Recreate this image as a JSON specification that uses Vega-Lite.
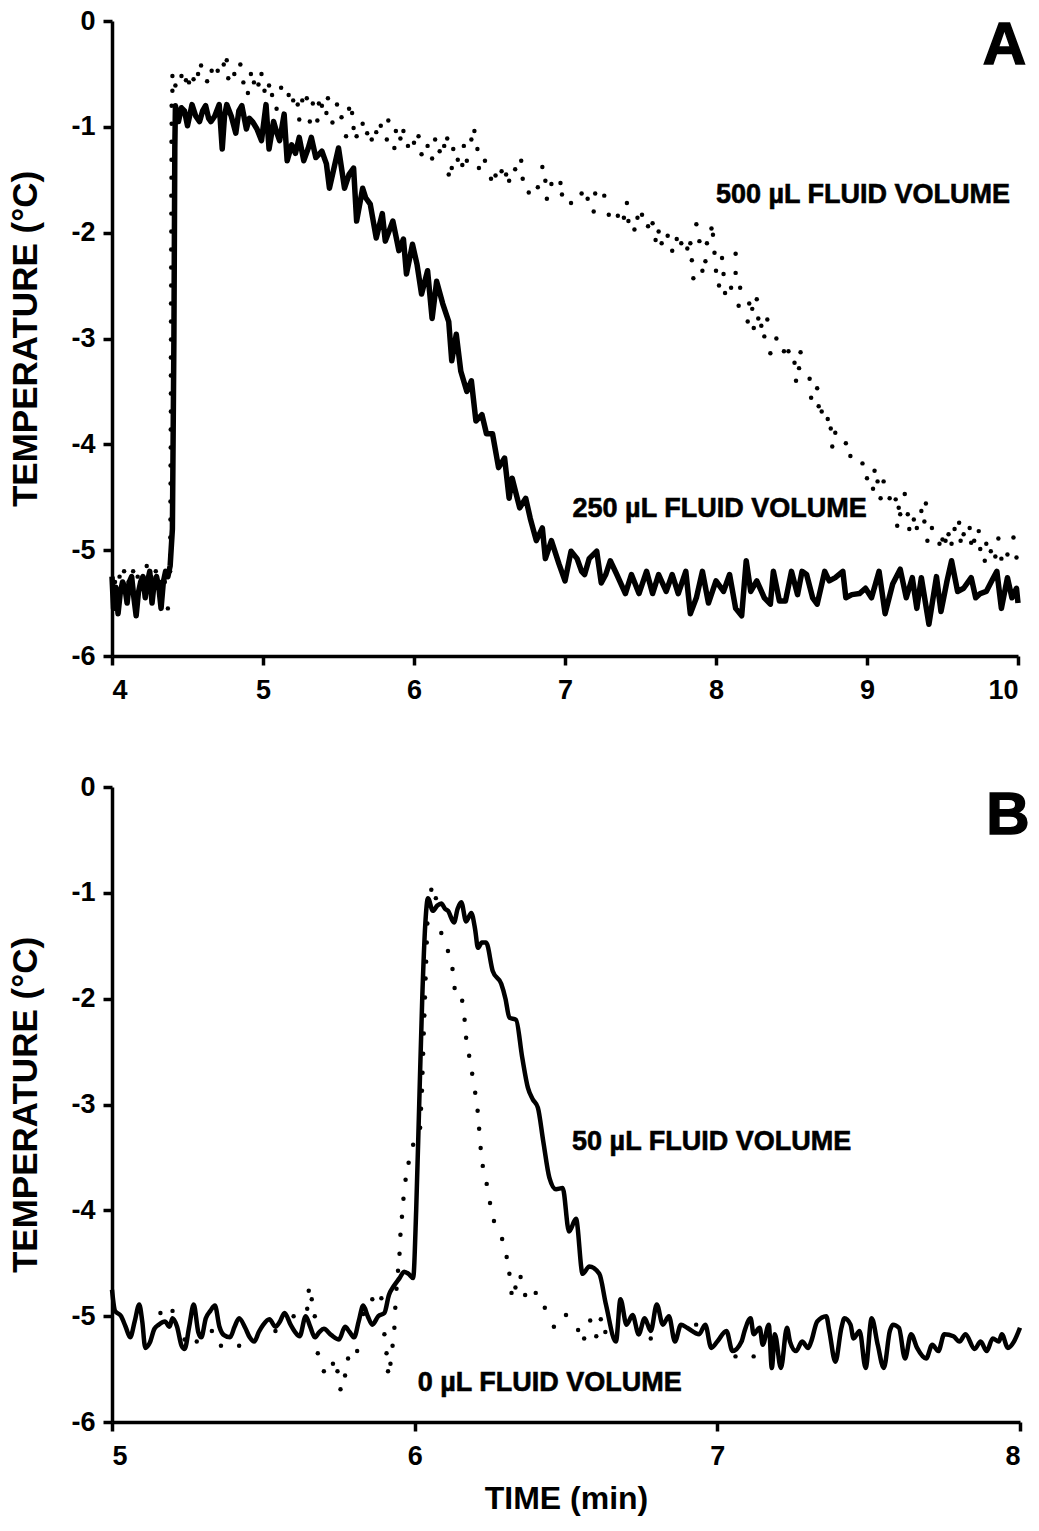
{
"$schema": "https://vega.github.io/schema/vega-lite/v6.json",
"padding": {"left": 8, "top": 7, "right": 4, "bottom": 12},
"background": "white",
"bounds": "flush",
"spacing": 131,
"config": {
  "view": {"stroke": null},
  "font": "Liberation Sans",
  "axis": {"domainColor": "black", "domainWidth": 3.5, "tickColor": "black", "tickWidth": 3.5, "tickSize": 9, "labelFont": "Liberation Sans", "labelFontWeight": "bold", "labelFontSize": 27, "labelColor": "black", "titleFont": "Liberation Sans", "titleFontWeight": "bold", "titleColor": "black", "grid": false, "labelPadding": 8},
  "axisX": {"labelPadding": 12}
},
"datasets": {
"sA": [
{"t":4.0,"v":-5.25},{"t":4.01,"v":-5.55},{"t":4.025,"v":-5.35},{"t":4.04,"v":-5.6},{"t":4.055,"v":-5.4},{"t":4.07,"v":-5.3},{"t":4.085,"v":-5.35},{"t":4.1,"v":-5.5},{"t":4.115,"v":-5.3},{"t":4.13,"v":-5.25},{"t":4.145,"v":-5.45},{"t":4.16,"v":-5.62},{"t":4.175,"v":-5.4},{"t":4.19,"v":-5.3},{"t":4.205,"v":-5.25},{"t":4.22,"v":-5.45},{"t":4.235,"v":-5.3},{"t":4.25,"v":-5.2},{"t":4.265,"v":-5.5},{"t":4.28,"v":-5.3},{"t":4.295,"v":-5.25},{"t":4.31,"v":-5.35},{"t":4.325,"v":-5.55},{"t":4.34,"v":-5.3},{"t":4.355,"v":-5.2},{"t":4.37,"v":-5.25},{"t":4.385,"v":-5.15},{"t":4.4,"v":-4.8},{"t":4.41,"v":-3.0},{"t":4.416,"v":-1.2},{"t":4.42,"v":-0.8},{"t":4.44,"v":-0.95},{"t":4.46,"v":-0.82},{"t":4.48,"v":-0.85},{"t":4.5,"v":-0.99},{"t":4.53,"v":-0.79},{"t":4.555,"v":-0.9},{"t":4.58,"v":-0.95},{"t":4.6,"v":-0.85},{"t":4.62,"v":-0.8},{"t":4.64,"v":-0.92},{"t":4.655,"v":-0.95},{"t":4.68,"v":-0.9},{"t":4.71,"v":-0.79},{"t":4.73,"v":-1.21},{"t":4.745,"v":-0.9},{"t":4.76,"v":-0.79},{"t":4.79,"v":-0.9},{"t":4.82,"v":-1.06},{"t":4.84,"v":-0.85},{"t":4.86,"v":-0.8},{"t":4.89,"v":-1.02},{"t":4.91,"v":-0.92},{"t":4.93,"v":-0.95},{"t":4.96,"v":-1.02},{"t":4.99,"v":-1.13},{"t":5.02,"v":-0.79},{"t":5.04,"v":-1.21},{"t":5.07,"v":-0.95},{"t":5.09,"v":-1.05},{"t":5.11,"v":-1.13},{"t":5.14,"v":-0.88},{"t":5.16,"v":-1.32},{"t":5.19,"v":-1.17},{"t":5.215,"v":-1.25},{"t":5.24,"v":-1.1},{"t":5.27,"v":-1.32},{"t":5.3,"v":-1.2},{"t":5.32,"v":-1.1},{"t":5.35,"v":-1.29},{"t":5.39,"v":-1.23},{"t":5.42,"v":-1.35},{"t":5.44,"v":-1.58},{"t":5.47,"v":-1.39},{"t":5.5,"v":-1.2},{"t":5.54,"v":-1.58},{"t":5.57,"v":-1.45},{"t":5.6,"v":-1.39},{"t":5.62,"v":-1.89},{"t":5.66,"v":-1.58},{"t":5.68,"v":-1.67},{"t":5.71,"v":-1.73},{"t":5.75,"v":-2.05},{"t":5.79,"v":-1.82},{"t":5.81,"v":-2.08},{"t":5.86,"v":-1.89},{"t":5.9,"v":-2.17},{"t":5.93,"v":-2.06},{"t":5.95,"v":-2.39},{"t":5.99,"v":-2.11},{"t":6.02,"v":-2.3},{"t":6.05,"v":-2.58},{"t":6.09,"v":-2.36},{"t":6.12,"v":-2.81},{"t":6.15,"v":-2.46},{"t":6.19,"v":-2.67},{"t":6.23,"v":-2.84},{"t":6.25,"v":-3.21},{"t":6.28,"v":-2.96},{"t":6.31,"v":-3.31},{"t":6.35,"v":-3.5},{"t":6.38,"v":-3.4},{"t":6.41,"v":-3.78},{"t":6.45,"v":-3.72},{"t":6.48,"v":-3.9},{"t":6.52,"v":-3.9},{"t":6.56,"v":-4.22},{"t":6.6,"v":-4.13},{"t":6.63,"v":-4.51},{"t":6.65,"v":-4.32},{"t":6.7,"v":-4.6},{"t":6.74,"v":-4.51},{"t":6.77,"v":-4.7},{"t":6.81,"v":-4.91},{"t":6.85,"v":-4.79},{"t":6.87,"v":-5.08},{"t":6.91,"v":-4.91},{"t":6.96,"v":-5.13},{"t":7.0,"v":-5.29},{"t":7.04,"v":-5.01},{"t":7.08,"v":-5.08},{"t":7.11,"v":-5.2},{"t":7.13,"v":-5.23},{"t":7.16,"v":-5.08},{"t":7.21,"v":-5.01},{"t":7.24,"v":-5.31},{"t":7.27,"v":-5.23},{"t":7.3,"v":-5.1},{"t":7.34,"v":-5.22},{"t":7.4,"v":-5.41},{"t":7.44,"v":-5.23},{"t":7.49,"v":-5.41},{"t":7.54,"v":-5.2},{"t":7.58,"v":-5.41},{"t":7.62,"v":-5.23},{"t":7.67,"v":-5.39},{"t":7.71,"v":-5.23},{"t":7.75,"v":-5.41},{"t":7.8,"v":-5.2},{"t":7.83,"v":-5.6},{"t":7.87,"v":-5.45},{"t":7.91,"v":-5.2},{"t":7.95,"v":-5.5},{"t":8.0,"v":-5.29},{"t":8.05,"v":-5.39},{"t":8.09,"v":-5.23},{"t":8.13,"v":-5.55},{"t":8.17,"v":-5.62},{"t":8.2,"v":-5.1},{"t":8.23,"v":-5.39},{"t":8.27,"v":-5.29},{"t":8.32,"v":-5.45},{"t":8.36,"v":-5.51},{"t":8.38,"v":-5.2},{"t":8.42,"v":-5.48},{"t":8.46,"v":-5.48},{"t":8.5,"v":-5.2},{"t":8.54,"v":-5.42},{"t":8.57,"v":-5.2},{"t":8.6,"v":-5.23},{"t":8.64,"v":-5.45},{"t":8.67,"v":-5.51},{"t":8.72,"v":-5.2},{"t":8.75,"v":-5.29},{"t":8.79,"v":-5.26},{"t":8.84,"v":-5.2},{"t":8.86,"v":-5.45},{"t":8.9,"v":-5.42},{"t":8.95,"v":-5.41},{"t":8.99,"v":-5.36},{"t":9.03,"v":-5.45},{"t":9.08,"v":-5.2},{"t":9.12,"v":-5.6},{"t":9.17,"v":-5.32},{"t":9.22,"v":-5.18},{"t":9.26,"v":-5.45},{"t":9.3,"v":-5.26},{"t":9.33,"v":-5.55},{"t":9.36,"v":-5.26},{"t":9.41,"v":-5.7},{"t":9.46,"v":-5.25},{"t":9.49,"v":-5.58},{"t":9.53,"v":-5.29},{"t":9.56,"v":-5.1},{"t":9.6,"v":-5.39},{"t":9.64,"v":-5.36},{"t":9.69,"v":-5.26},{"t":9.72,"v":-5.45},{"t":9.75,"v":-5.41},{"t":9.79,"v":-5.39},{"t":9.83,"v":-5.28},{"t":9.86,"v":-5.2},{"t":9.89,"v":-5.55},{"t":9.93,"v":-5.26},{"t":9.96,"v":-5.45},{"t":9.99,"v":-5.36},{"t":10.0,"v":-5.5}
],
"pA": [
{"t":4.02,"v":-5.3},{"t":4.05,"v":-5.25},{"t":4.08,"v":-5.2},{"t":4.11,"v":-5.3},{"t":4.14,"v":-5.2},{"t":4.17,"v":-5.25},{"t":4.2,"v":-5.3},{"t":4.23,"v":-5.15},{"t":4.26,"v":-5.25},{"t":4.29,"v":-5.2},{"t":4.32,"v":-5.3},{"t":4.35,"v":-5.3},{"t":4.37,"v":-5.55},{"t":4.385,"v":-5.2},
{"t":4.386,"v":-5.05},{"t":4.386,"v":-4.88},{"t":4.387,"v":-4.71},{"t":4.387,"v":-4.54},{"t":4.388,"v":-4.37},{"t":4.388,"v":-4.2},{"t":4.389,"v":-4.03},{"t":4.389,"v":-3.86},{"t":4.39,"v":-3.69},{"t":4.39,"v":-3.52},{"t":4.39,"v":-3.35},{"t":4.39,"v":-3.18},{"t":4.391,"v":-3.01},{"t":4.391,"v":-2.84},{"t":4.391,"v":-2.67},{"t":4.392,"v":-2.5},{"t":4.392,"v":-2.33},{"t":4.392,"v":-2.16},{"t":4.393,"v":-1.99},{"t":4.393,"v":-1.82},{"t":4.393,"v":-1.65},{"t":4.394,"v":-1.48},{"t":4.394,"v":-1.31},{"t":4.394,"v":-1.14},{"t":4.395,"v":-0.97},{"t":4.395,"v":-0.8},
{"t":4.4,"v":-0.66},{"t":4.4,"v":-0.52},{"t":4.42,"v":-0.61},{"t":4.46,"v":-0.52},{"t":4.49,"v":-0.56},{"t":4.51,"v":-0.58},{"t":4.54,"v":-0.55},{"t":4.57,"v":-0.5},{"t":4.59,"v":-0.42},{"t":4.63,"v":-0.57},{"t":4.66,"v":-0.47},{"t":4.7,"v":-0.47},{"t":4.74,"v":-0.41},{"t":4.76,"v":-0.37},{"t":4.77,"v":-0.54},{"t":4.81,"v":-0.5},{"t":4.85,"v":-0.41},{"t":4.87,"v":-0.58},{"t":4.9,"v":-0.68},{"t":4.92,"v":-0.5},{"t":4.94,"v":-0.58},{"t":4.97,"v":-0.6},{"t":4.99,"v":-0.5},{"t":5.01,"v":-0.66},{"t":5.04,"v":-0.61},{"t":5.06,"v":-0.7},{"t":5.09,"v":-0.83},{"t":5.12,"v":-0.63},{"t":5.17,"v":-0.7},{"t":5.2,"v":-0.75},{"t":5.23,"v":-0.79},{"t":5.24,"v":-0.93},{"t":5.26,"v":-0.75},{"t":5.29,"v":-0.73},{"t":5.31,"v":-0.95},{"t":5.33,"v":-0.78},{"t":5.36,"v":-0.94},{"t":5.37,"v":-0.78},{"t":5.39,"v":-0.8},{"t":5.42,"v":-0.87},{"t":5.43,"v":-0.73},{"t":5.46,"v":-0.96},{"t":5.49,"v":-0.79},{"t":5.52,"v":-0.91},{"t":5.55,"v":-1.09},{"t":5.57,"v":-0.83},{"t":5.59,"v":-0.87},{"t":5.6,"v":-1.01},{"t":5.62,"v":-1.09},{"t":5.66,"v":-0.97},{"t":5.69,"v":-1.06},{"t":5.72,"v":-1.12},{"t":5.75,"v":-1.05},{"t":5.78,"v":-0.99},{"t":5.82,"v":-1.12},{"t":5.83,"v":-0.94},{"t":5.87,"v":-1.2},{"t":5.88,"v":-1.04},{"t":5.91,"v":-1.11},{"t":5.93,"v":-1.04},{"t":5.96,"v":-1.18},{"t":6.0,"v":-1.15},{"t":6.03,"v":-1.09},{"t":6.05,"v":-1.26},{"t":6.09,"v":-1.18},{"t":6.12,"v":-1.3},{"t":6.14,"v":-1.12},{"t":6.17,"v":-1.23},{"t":6.2,"v":-1.18},{"t":6.22,"v":-1.11},{"t":6.23,"v":-1.45},{"t":6.25,"v":-1.39},{"t":6.26,"v":-1.21},{"t":6.29,"v":-1.31},{"t":6.32,"v":-1.36},{"t":6.33,"v":-1.18},{"t":6.35,"v":-1.32},{"t":6.38,"v":-1.12},{"t":6.4,"v":-1.04},{"t":6.42,"v":-1.21},{"t":6.43,"v":-1.39},{"t":6.47,"v":-1.32},{"t":6.51,"v":-1.49},{"t":6.54,"v":-1.46},{"t":6.58,"v":-1.42},{"t":6.61,"v":-1.45},{"t":6.63,"v":-1.51},{"t":6.67,"v":-1.4},{"t":6.71,"v":-1.32},{"t":6.72,"v":-1.49},{"t":6.76,"v":-1.62},{"t":6.82,"v":-1.57},{"t":6.85,"v":-1.38},{"t":6.87,"v":-1.51},{"t":6.88,"v":-1.68},{"t":6.91,"v":-1.54},{"t":6.97,"v":-1.53},{"t":6.98,"v":-1.64},{"t":7.04,"v":-1.72},{"t":7.11,"v":-1.63},{"t":7.15,"v":-1.68},{"t":7.19,"v":-1.8},{"t":7.2,"v":-1.63},{"t":7.26,"v":-1.65},{"t":7.29,"v":-1.83},{"t":7.35,"v":-1.84},{"t":7.39,"v":-1.86},{"t":7.41,"v":-1.72},{"t":7.42,"v":-1.89},{"t":7.46,"v":-1.97},{"t":7.48,"v":-1.86},{"t":7.51,"v":-1.83},{"t":7.55,"v":-1.94},{"t":7.58,"v":-1.91},{"t":7.6,"v":-2.07},{"t":7.62,"v":-1.99},{"t":7.64,"v":-2.1},{"t":7.68,"v":-2.03},{"t":7.71,"v":-2.17},{"t":7.74,"v":-2.06},{"t":7.77,"v":-2.1},{"t":7.81,"v":-2.15},{"t":7.83,"v":-2.1},{"t":7.84,"v":-2.26},{"t":7.85,"v":-2.43},{"t":7.87,"v":-1.92},{"t":7.89,"v":-2.08},{"t":7.91,"v":-2.36},{"t":7.93,"v":-2.27},{"t":7.94,"v":-2.1},{"t":7.97,"v":-1.96},{"t":7.98,"v":-2.02},{"t":7.99,"v":-2.19},{"t":8.0,"v":-2.36},{"t":8.02,"v":-2.5},{"t":8.04,"v":-2.24},{"t":8.05,"v":-2.39},{"t":8.06,"v":-2.57},{"t":8.1,"v":-2.52},{"t":8.13,"v":-2.2},{"t":8.13,"v":-2.38},{"t":8.15,"v":-2.69},{"t":8.16,"v":-2.52},{"t":8.21,"v":-2.84},{"t":8.22,"v":-2.67},{"t":8.24,"v":-2.72},{"t":8.25,"v":-2.9},{"t":8.27,"v":-2.63},{"t":8.28,"v":-2.81},{"t":8.3,"v":-2.88},{"t":8.32,"v":-2.98},{"t":8.34,"v":-2.82},{"t":8.36,"v":-3.14},{"t":8.4,"v":-3.0},{"t":8.45,"v":-3.12},{"t":8.48,"v":-3.12},{"t":8.52,"v":-3.23},{"t":8.55,"v":-3.28},{"t":8.56,"v":-3.13},{"t":8.53,"v":-3.4},{"t":8.62,"v":-3.38},{"t":8.63,"v":-3.56},{"t":8.67,"v":-3.47},{"t":8.68,"v":-3.64},{"t":8.7,"v":-3.69},{"t":8.74,"v":-3.76},{"t":8.76,"v":-3.85},{"t":8.79,"v":-3.89},{"t":8.77,"v":-4.02},{"t":8.86,"v":-3.99},{"t":8.89,"v":-4.11},{"t":8.97,"v":-4.18},{"t":9.0,"v":-4.32},{"t":9.04,"v":-4.42},{"t":9.05,"v":-4.25},{"t":9.07,"v":-4.35},{"t":9.09,"v":-4.51},{"t":9.11,"v":-4.35},{"t":9.15,"v":-4.51},{"t":9.19,"v":-4.52},{"t":9.2,"v":-4.77},{"t":9.21,"v":-4.6},{"t":9.22,"v":-4.66},{"t":9.25,"v":-4.47},{"t":9.27,"v":-4.66},{"t":9.28,"v":-4.8},{"t":9.31,"v":-4.71},{"t":9.33,"v":-4.79},{"t":9.36,"v":-4.63},{"t":9.38,"v":-4.73},{"t":9.39,"v":-4.56},{"t":9.4,"v":-4.91},{"t":9.43,"v":-4.79},{"t":9.48,"v":-4.94},{"t":9.5,"v":-4.9},{"t":9.52,"v":-4.91},{"t":9.54,"v":-4.85},{"t":9.56,"v":-4.94},{"t":9.58,"v":-4.8},{"t":9.61,"v":-4.74},{"t":9.62,"v":-4.91},{"t":9.64,"v":-4.85},{"t":9.68,"v":-4.79},{"t":9.69,"v":-4.93},{"t":9.71,"v":-4.91},{"t":9.74,"v":-4.82},{"t":9.75,"v":-4.99},{"t":9.78,"v":-5.1},{"t":9.79,"v":-4.94},{"t":9.82,"v":-5.01},{"t":9.85,"v":-5.06},{"t":9.87,"v":-4.89},{"t":9.89,"v":-5.08},{"t":9.93,"v":-5.04},{"t":9.97,"v":-4.88},{"t":9.99,"v":-5.07}
],
"sB": [
{"t":5.0,"v":-4.75},{"t":5.01,"v":-4.95},{"t":5.03,"v":-5.0},{"t":5.045,"v":-5.1},{"t":5.06,"v":-5.2},{"t":5.075,"v":-5.05},{"t":5.09,"v":-4.89},{"t":5.1,"v":-5.05},{"t":5.11,"v":-5.3},{"t":5.125,"v":-5.25},{"t":5.14,"v":-5.12},{"t":5.155,"v":-5.08},{"t":5.175,"v":-5.05},{"t":5.19,"v":-5.1},{"t":5.2,"v":-5.02},{"t":5.215,"v":-5.1},{"t":5.23,"v":-5.28},{"t":5.24,"v":-5.31},{"t":5.255,"v":-5.1},{"t":5.27,"v":-4.89},{"t":5.285,"v":-5.15},{"t":5.295,"v":-5.2},{"t":5.31,"v":-5.02},{"t":5.325,"v":-4.95},{"t":5.34,"v":-4.9},{"t":5.355,"v":-5.1},{"t":5.37,"v":-5.18},{"t":5.39,"v":-5.2},{"t":5.405,"v":-5.1},{"t":5.42,"v":-5.02},{"t":5.44,"v":-5.11},{"t":5.455,"v":-5.2},{"t":5.47,"v":-5.24},{"t":5.485,"v":-5.15},{"t":5.5,"v":-5.08},{"t":5.52,"v":-5.03},{"t":5.54,"v":-5.1},{"t":5.555,"v":-5.05},{"t":5.57,"v":-4.97},{"t":5.59,"v":-5.08},{"t":5.605,"v":-5.15},{"t":5.62,"v":-5.19},{"t":5.64,"v":-5.0},{"t":5.655,"v":-5.1},{"t":5.67,"v":-5.2},{"t":5.685,"v":-5.15},{"t":5.7,"v":-5.12},{"t":5.725,"v":-5.18},{"t":5.75,"v":-5.22},{"t":5.77,"v":-5.1},{"t":5.785,"v":-5.15},{"t":5.8,"v":-5.2},{"t":5.815,"v":-5.05},{"t":5.83,"v":-4.9},{"t":5.845,"v":-5.0},{"t":5.86,"v":-5.08},{"t":5.88,"v":-5.0},{"t":5.9,"v":-4.97},{"t":5.915,"v":-4.8},{"t":5.93,"v":-4.72},{"t":5.95,"v":-4.64},{"t":5.965,"v":-4.58},{"t":5.98,"v":-4.6},{"t":5.995,"v":-4.64},{"t":6.005,"v":-4.0},{"t":6.015,"v":-3.0},{"t":6.025,"v":-2.0},{"t":6.035,"v":-1.3},{"t":6.044,"v":-1.05},{"t":6.06,"v":-1.17},{"t":6.075,"v":-1.12},{"t":6.088,"v":-1.1},{"t":6.1,"v":-1.15},{"t":6.11,"v":-1.17},{"t":6.13,"v":-1.28},{"t":6.142,"v":-1.15},{"t":6.154,"v":-1.09},{"t":6.17,"v":-1.27},{"t":6.187,"v":-1.19},{"t":6.2,"v":-1.35},{"t":6.209,"v":-1.52},{"t":6.222,"v":-1.47},{"t":6.236,"v":-1.47},{"t":6.258,"v":-1.74},{"t":6.286,"v":-1.86},{"t":6.3,"v":-2.0},{"t":6.313,"v":-2.18},{"t":6.335,"v":-2.2},{"t":6.355,"v":-2.55},{"t":6.374,"v":-2.84},{"t":6.39,"v":-2.95},{"t":6.407,"v":-3.03},{"t":6.425,"v":-3.35},{"t":6.445,"v":-3.69},{"t":6.467,"v":-3.8},{"t":6.489,"v":-3.79},{"t":6.51,"v":-4.2},{"t":6.533,"v":-4.08},{"t":6.555,"v":-4.6},{"t":6.577,"v":-4.53},{"t":6.61,"v":-4.6},{"t":6.632,"v":-4.89},{"t":6.665,"v":-5.24},{"t":6.68,"v":-4.84},{"t":6.7,"v":-5.08},{"t":6.72,"v":-4.99},{"t":6.74,"v":-5.17},{"t":6.76,"v":-5.02},{"t":6.78,"v":-5.14},{"t":6.8,"v":-4.89},{"t":6.82,"v":-5.08},{"t":6.84,"v":-5.0},{"t":6.86,"v":-5.24},{"t":6.88,"v":-5.08},{"t":6.9,"v":-5.11},{"t":6.94,"v":-5.17},{"t":6.96,"v":-5.08},{"t":6.98,"v":-5.3},{"t":7.0,"v":-5.24},{"t":7.03,"v":-5.14},{"t":7.05,"v":-5.33},{"t":7.08,"v":-5.24},{"t":7.09,"v":-5.14},{"t":7.11,"v":-5.02},{"t":7.12,"v":-5.17},{"t":7.14,"v":-5.11},{"t":7.15,"v":-5.27},{"t":7.17,"v":-5.08},{"t":7.18,"v":-5.49},{"t":7.19,"v":-5.17},{"t":7.21,"v":-5.49},{"t":7.23,"v":-5.11},{"t":7.24,"v":-5.24},{"t":7.26,"v":-5.33},{"t":7.28,"v":-5.24},{"t":7.3,"v":-5.3},{"t":7.31,"v":-5.24},{"t":7.33,"v":-5.05},{"t":7.36,"v":-5.0},{"t":7.37,"v":-5.14},{"t":7.39,"v":-5.43},{"t":7.41,"v":-5.11},{"t":7.42,"v":-5.02},{"t":7.44,"v":-5.08},{"t":7.45,"v":-5.21},{"t":7.47,"v":-5.14},{"t":7.49,"v":-5.49},{"t":7.51,"v":-5.02},{"t":7.53,"v":-5.27},{"t":7.55,"v":-5.49},{"t":7.57,"v":-5.14},{"t":7.58,"v":-5.08},{"t":7.6,"v":-5.11},{"t":7.62,"v":-5.4},{"t":7.64,"v":-5.17},{"t":7.66,"v":-5.3},{"t":7.69,"v":-5.4},{"t":7.71,"v":-5.27},{"t":7.73,"v":-5.33},{"t":7.75,"v":-5.17},{"t":7.78,"v":-5.19},{"t":7.8,"v":-5.24},{"t":7.82,"v":-5.17},{"t":7.85,"v":-5.31},{"t":7.87,"v":-5.24},{"t":7.89,"v":-5.33},{"t":7.91,"v":-5.21},{"t":7.93,"v":-5.24},{"t":7.94,"v":-5.17},{"t":7.96,"v":-5.3},{"t":7.98,"v":-5.24},{"t":8.0,"v":-5.11}
],
"pB": [
{"t":5.16,"v":-4.97},{"t":5.2,"v":-4.95},{"t":5.24,"v":-5.22},{"t":5.28,"v":-5.24},{"t":5.33,"v":-5.14},{"t":5.36,"v":-5.28},{"t":5.42,"v":-5.28},{"t":5.54,"v":-5.14},{"t":5.6,"v":-5.0},{"t":5.645,"v":-4.93},{"t":5.65,"v":-4.76},{"t":5.66,"v":-4.84},{"t":5.67,"v":-5.0},{"t":5.68,"v":-5.35},{"t":5.7,"v":-5.52},{"t":5.73,"v":-5.45},{"t":5.745,"v":-5.52},{"t":5.755,"v":-5.69},{"t":5.77,"v":-5.56},{"t":5.78,"v":-5.4},{"t":5.81,"v":-5.33},{"t":5.83,"v":-4.98},{"t":5.86,"v":-4.84},{"t":5.89,"v":-4.83},{"t":5.9,"v":-5.17},{"t":5.907,"v":-5.35},{"t":5.912,"v":-5.52},{"t":5.92,"v":-5.45},{"t":5.927,"v":-5.28},{"t":5.933,"v":-5.11},{"t":5.936,"v":-4.92},{"t":5.94,"v":-4.74},{"t":5.945,"v":-4.57},{"t":5.95,"v":-4.41},{"t":5.953,"v":-4.23},{"t":5.958,"v":-4.06},{"t":5.963,"v":-3.89},{"t":5.97,"v":-3.71},{"t":5.98,"v":-3.55},{"t":5.995,"v":-3.38},{"t":6.018,"v":-3.22},{"t":6.021,"v":-3.04},{"t":6.024,"v":-2.87},{"t":6.026,"v":-2.7},{"t":6.028,"v":-2.52},{"t":6.03,"v":-2.33},{"t":6.032,"v":-2.16},{"t":6.034,"v":-1.99},{"t":6.036,"v":-1.81},{"t":6.038,"v":-1.65},{"t":6.04,"v":-1.47},{"t":6.042,"v":-1.29},{"t":6.048,"v":-1.12},{"t":6.055,"v":-0.97},{"t":6.07,"v":-1.05},{"t":6.088,"v":-1.38},{"t":6.11,"v":-1.55},{"t":6.125,"v":-1.72},{"t":6.132,"v":-1.9},{"t":6.157,"v":-2.02},{"t":6.165,"v":-2.2},{"t":6.17,"v":-2.37},{"t":6.18,"v":-2.54},{"t":6.19,"v":-2.71},{"t":6.2,"v":-2.89},{"t":6.208,"v":-3.06},{"t":6.213,"v":-3.23},{"t":6.218,"v":-3.41},{"t":6.225,"v":-3.58},{"t":6.238,"v":-3.75},{"t":6.249,"v":-3.93},{"t":6.262,"v":-4.1},{"t":6.289,"v":-4.27},{"t":6.304,"v":-4.44},{"t":6.313,"v":-4.6},{"t":6.32,"v":-4.78},{"t":6.333,"v":-4.73},{"t":6.35,"v":-4.63},{"t":6.365,"v":-4.8},{"t":6.4,"v":-4.78},{"t":6.43,"v":-4.92},{"t":6.46,"v":-5.1},{"t":6.5,"v":-4.99},{"t":6.54,"v":-5.13},{"t":6.56,"v":-5.21},{"t":6.58,"v":-5.04},{"t":6.6,"v":-5.19},{"t":6.615,"v":-5.03},{"t":6.63,"v":-5.15},{"t":6.74,"v":-5.17},{"t":6.78,"v":-5.21},{"t":6.93,"v":-5.08},{"t":7.06,"v":-5.38},{"t":7.12,"v":-5.38}
],
"tA": [
{"t":8.0,"v":-1.64,"label":"500 µL FLUID VOLUME"},
{"t":7.05,"v":-4.61,"label":"250 µL FLUID VOLUME"}
],
"tB": [
{"t":6.52,"v":-3.35,"label":"50 µL FLUID VOLUME"},
{"t":6.01,"v":-5.63,"label":"0 µL FLUID VOLUME"}
],
"lA": [{"t":9.91,"v":-0.24,"label":"A"}],
"lB": [{"t":7.96,"v":-0.27,"label":"B"}]
},
"vconcat": [
{
 "width": 906, "height": 635,
 "layer": [
  {"data": {"name": "sA"},
   "mark": {"type": "line", "color": "black", "strokeWidth": 5.5, "strokeJoin": "round"},
   "encoding": {
    "x": {"field": "t", "type": "quantitative", "scale": {"domain": [4, 10], "nice": false, "zero": false},
          "axis": {"values": [4,5,6,7,8,9,10], "title": null, "labelExpr": "'' + datum.value"}},
    "y": {"field": "v", "type": "quantitative", "scale": {"domain": [-6, 0], "nice": false, "zero": false},
          "axis": {"values": [0,-1,-2,-3,-4,-5,-6], "title": "TEMPERATURE (°C)", "titleFontSize": 35, "titlePadding": 27, "labelExpr": "'' + datum.value"}}
   }},
  {"data": {"name": "pA"},
   "mark": {"type": "circle", "color": "black", "size": 20, "opacity": 1},
   "encoding": {"x": {"field": "t", "type": "quantitative"}, "y": {"field": "v", "type": "quantitative"}}},
  {"data": {"name": "tA"},
   "mark": {"type": "text", "align": "left", "baseline": "middle", "fontSize": 27, "fontWeight": "bold", "font": "Liberation Sans", "color": "black", "stroke": "black", "strokeWidth": 0.6},
   "encoding": {"x": {"field": "t", "type": "quantitative"}, "y": {"field": "v", "type": "quantitative"}, "text": {"field": "label"}}},
  {"data": {"name": "lA"},
   "mark": {"type": "text", "align": "center", "baseline": "middle", "fontSize": 60, "fontWeight": "bold", "font": "Liberation Sans", "color": "black", "stroke": "black", "strokeWidth": 1.5},
   "encoding": {"x": {"field": "t", "type": "quantitative"}, "y": {"field": "v", "type": "quantitative"}, "text": {"field": "label"}}}
 ]
},
{
 "width": 908, "height": 635,
 "layer": [
  {"data": {"name": "sB"},
   "mark": {"type": "line", "color": "black", "strokeWidth": 4.5, "strokeJoin": "round", "interpolate": "monotone"},
   "encoding": {
    "x": {"field": "t", "type": "quantitative", "scale": {"domain": [5, 8], "nice": false, "zero": false},
          "axis": {"values": [5,6,7,8], "title": "TIME (min)", "titleFontSize": 32, "titlePadding": 14, "labelExpr": "'' + datum.value"}},
    "y": {"field": "v", "type": "quantitative", "scale": {"domain": [-6, 0], "nice": false, "zero": false},
          "axis": {"values": [0,-1,-2,-3,-4,-5,-6], "title": "TEMPERATURE (°C)", "titleFontSize": 35, "titlePadding": 27, "labelExpr": "'' + datum.value"}}
   }},
  {"data": {"name": "pB"},
   "mark": {"type": "circle", "color": "black", "size": 20, "opacity": 1},
   "encoding": {"x": {"field": "t", "type": "quantitative"}, "y": {"field": "v", "type": "quantitative"}}},
  {"data": {"name": "tB"},
   "mark": {"type": "text", "align": "left", "baseline": "middle", "fontSize": 27, "fontWeight": "bold", "font": "Liberation Sans", "color": "black", "stroke": "black", "strokeWidth": 0.6},
   "encoding": {"x": {"field": "t", "type": "quantitative"}, "y": {"field": "v", "type": "quantitative"}, "text": {"field": "label"}}},
  {"data": {"name": "lB"},
   "mark": {"type": "text", "align": "center", "baseline": "middle", "fontSize": 60, "fontWeight": "bold", "font": "Liberation Sans", "color": "black", "stroke": "black", "strokeWidth": 1.5},
   "encoding": {"x": {"field": "t", "type": "quantitative"}, "y": {"field": "v", "type": "quantitative"}, "text": {"field": "label"}}}
 ]
}
]
}
